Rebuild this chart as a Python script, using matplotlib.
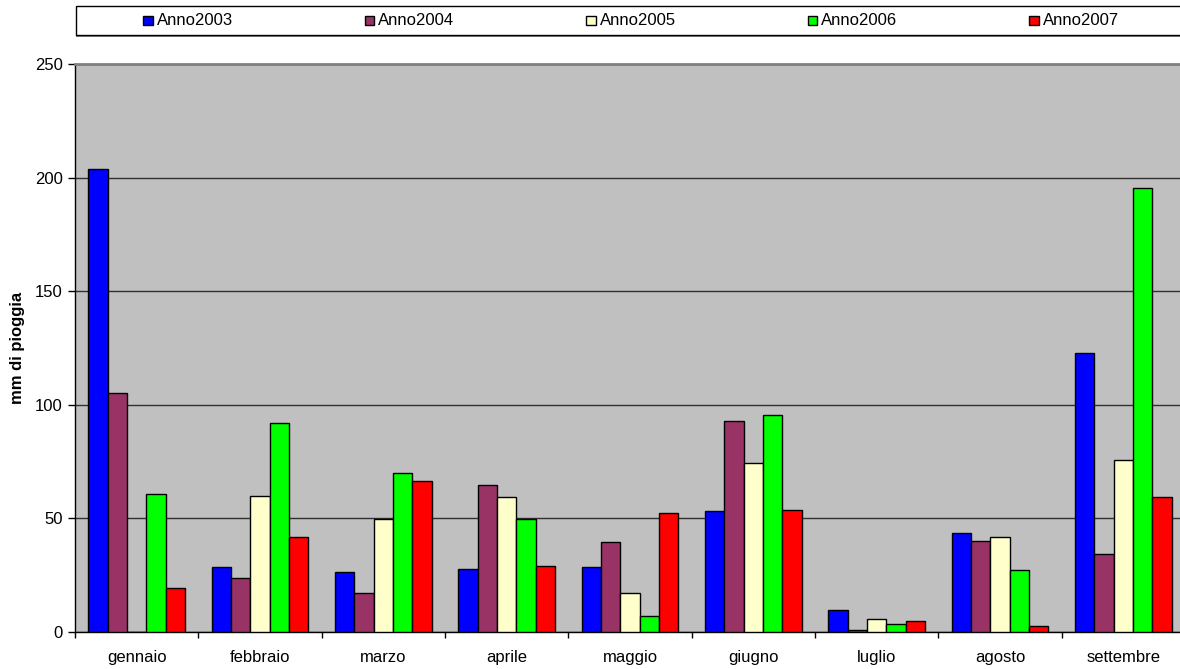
"""Monthly rainfall 2003-2007, grouped bar chart (Excel-style look)."""

import matplotlib
matplotlib.use("Agg")  # headless
import matplotlib.pyplot as plt
from matplotlib.patches import Rectangle
import numpy as np

plt.rcParams["font.family"] = ["Liberation Sans", "DejaVu Sans"]

MONTHS = ["gennaio", "febbraio", "marzo", "aprile", "maggio",
          "giugno", "luglio", "agosto", "settembre"]
SERIES = ["Anno2003", "Anno2004", "Anno2005", "Anno2006", "Anno2007"]

anno2003 = [204.0, 28.8, 26.6, 27.8, 28.8, 53.3, 9.5, 43.7, 122.9]
anno2004 = [105.3, 23.9, 17.0, 64.6, 39.4, 93.0, 0.7, 40.1, 34.5]
anno2005 = [0.0, 59.9, 49.8, 59.2, 17.3, 74.3, 5.7, 41.6, 75.9]
anno2006 = [60.8, 92.2, 70.2, 49.8, 7.0, 95.7, 3.5, 27.2, 195.3]
anno2007 = [19.5, 41.7, 66.4, 29.2, 52.3, 53.7, 5.0, 2.6, 59.6]

COLORS = ["#0000FF", "#993366", "#FFFFCC", "#00FF00", "#FF0000"]
FS = 12

W, H = 1180, 669
fig = plt.figure(figsize=(W / 100, H / 100), dpi=100)


def px(x, y):
    """pixel position (from top-left) -> figure fraction"""
    return x / W, 1 - y / H


# plot area in pixels: x 75..1185 (runs past the right edge), y 64..632
ax = fig.add_axes([75 / W, (H - 632) / H, 1110 / W, 568 / H])
ax.set_facecolor("#C0C0C0")

values = [anno2003, anno2004, anno2005, anno2006, anno2007]
bw = 0.157
x0 = np.arange(len(MONTHS)) + (1 - bw * len(SERIES)) / 2 + bw / 2
for k, (vals, col) in enumerate(zip(values, COLORS)):
    ax.bar(x0 + k * bw, vals, bw, color=col, edgecolor="black", linewidth=1.0, zorder=3)

ax.set_xlim(0, len(MONTHS))
ax.set_ylim(0, 250)
ax.set_yticks(range(0, 251, 50))
ax.yaxis.grid(True, color="#303030", linewidth=1.0, zorder=1)

ax.set_xticks(range(len(MONTHS) + 1))
ax.set_xticklabels([])
ax.set_xticks(np.arange(len(MONTHS)) + 0.5, minor=True)
ax.set_xticklabels(MONTHS, minor=True)
ax.tick_params(axis="x", which="major", direction="out", length=4, width=1, color="black")
ax.tick_params(axis="x", which="minor", length=0, pad=13, labelsize=FS)
ax.tick_params(axis="y", direction="out", length=5, width=1, pad=4, labelsize=FS)

for side in ("left", "bottom"):
    ax.spines[side].set_color("black")
    ax.spines[side].set_linewidth(1.0)
ax.spines["top"].set_color("#808080")
ax.spines["top"].set_linewidth(2.0)
ax.spines["right"].set_visible(False)

lbx, lby = px(17.5, 348)
fig.text(lbx, lby, "mm di pioggia", fontsize=FS, fontweight="bold",
         rotation=90, ha="center", va="center")

# legend strip across the top, with a drop shadow
lx, ly = px(76, 34.5)
fig.add_artist(Rectangle((lx, ly - 2 / H), 1.1, 28.5 / H, transform=fig.transFigure,
                         facecolor="#808080", edgecolor="none"))
fig.add_artist(Rectangle((lx, ly), 1.1, 28.5 / H, transform=fig.transFigure,
                         facecolor="white", edgecolor="black", linewidth=1.0))
for k, (name, col) in enumerate(zip(SERIES, COLORS)):
    sx = 143 + k * 221.5
    bx, by = px(sx, 25)
    fig.add_artist(Rectangle((bx, by), 9.5 / W, 9.5 / H, transform=fig.transFigure,
                             facecolor=col, edgecolor="black", linewidth=1.0))
    tx, ty = px(sx + 13.5, 20.5)
    fig.text(tx, ty, name, fontsize=FS, va="center", ha="left")

fig.savefig("out.png", dpi=100)
